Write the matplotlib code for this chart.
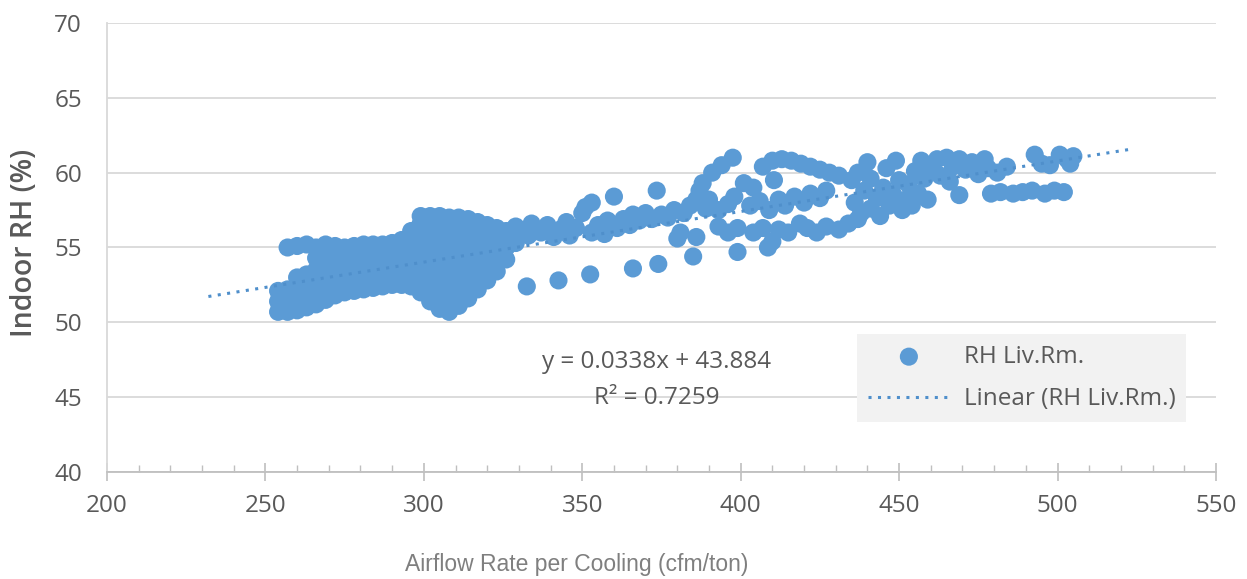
import matplotlib.pyplot as plt

plt.rcParams['font.family'] = ['Open Sans', 'DejaVu Sans']

# dense cloud, 250-330 cfm/ton
cluster_x = [
    254, 254, 254,
    257, 257, 257, 257,
    260, 260, 260, 260, 260,
    263, 263, 263, 263, 263,
    266, 266, 266, 266, 266, 266,
    269, 269, 269, 269, 269, 269,
    272, 272, 272, 272, 272, 272,
    275, 275, 275, 275, 275,
    278, 278, 278, 278, 278,
    281, 281, 281, 281, 281,
    284, 284, 284, 284, 284,
    287, 287, 287, 287, 287,
    290, 290, 290, 290, 290,
    293, 293, 293, 293, 293,
    296, 296, 296, 296, 296, 296,
    299, 299, 299, 299, 299, 299, 299, 299,
    302, 302, 302, 302, 302, 302, 302, 302,
    305, 305, 305, 305, 305, 305, 305, 305, 305,
    308, 308, 308, 308, 308, 308, 308, 308, 308,
    311, 311, 311, 311, 311, 311, 311, 311, 311,
    314, 314, 314, 314, 314, 314, 314, 314,
    317, 317, 317, 317, 317, 317, 317,
    320, 320, 320, 320, 320, 320,
    323, 323, 323, 323, 323,
    326, 326, 326, 326,
    329, 329, 329,
]
cluster_y = [
    50.7, 51.4, 52.1,
    50.7, 51.4, 52.2, 55.0,
    50.8, 51.5, 52.3, 53.0, 55.1,
    51.0, 51.7, 52.5, 53.2, 55.2,
    51.2, 51.9, 52.7, 53.5, 54.3, 55.0,
    51.5, 52.2, 53.0, 53.8, 54.5, 55.2,
    51.8, 52.5, 53.3, 54.1, 54.8, 55.1,
    52.0, 52.7, 53.4, 54.2, 55.0,
    52.1, 52.8, 53.6, 54.4, 55.1,
    52.2, 52.9, 53.7, 54.5, 55.2,
    52.3, 53.0, 53.8, 54.6, 55.2,
    52.4, 53.1, 53.9, 54.7, 55.2,
    52.5, 53.2, 54.0, 54.8, 55.3,
    52.5, 53.2, 54.0, 54.8, 55.5,
    52.4, 53.0, 53.8, 54.6, 55.4, 56.1,
    52.0, 52.6, 53.4, 54.2, 55.0, 55.8, 56.6, 57.1,
    51.4, 52.2, 53.0, 53.8, 54.6, 55.4, 56.2, 57.1,
    50.9, 51.7, 52.5, 53.3, 54.1, 54.9, 55.7, 56.5, 57.1,
    50.7, 51.5, 52.3, 53.1, 53.9, 54.7, 55.5, 56.3, 57.0,
    51.1, 51.8, 52.6, 53.4, 54.2, 55.0, 55.8, 56.5, 57.0,
    51.6, 52.3, 53.1, 53.9, 54.7, 55.5, 56.2, 56.9,
    52.2, 52.9, 53.7, 54.5, 55.3, 56.0, 56.7,
    52.8, 53.5, 54.3, 55.1, 55.9, 56.5,
    53.4, 54.2, 55.0, 55.8, 56.3,
    54.2, 55.0, 55.7, 56.1,
    55.3, 56.0, 56.4,
]

# main band 330-400
band_x = [331, 333, 334, 337, 339, 341, 343, 345, 346, 348, 350, 351, 353, 353,
          355, 357, 358, 360, 361, 363, 365, 366, 368, 370, 372, 373.5, 375, 377,
          379, 380, 381, 382, 384, 386, 386, 387, 388, 389, 390, 391, 393, 393,
          394, 396, 396, 397.5, 398, 399]
band_y = [56.1, 55.8, 56.6, 56.0, 56.5, 55.7, 56.2, 56.7, 55.8, 56.3, 57.3, 57.7, 58.0, 56.0,
          56.5, 55.9, 56.8, 58.4, 56.3, 56.9, 56.5, 57.2, 56.8, 57.3, 56.9, 58.8, 57.2, 57.0,
          57.5, 55.6, 56.0, 57.3, 57.8, 55.7, 58.2, 58.8, 59.3, 57.6, 58.2, 60.0, 57.5, 56.4,
          60.5, 56.0, 57.9, 61.0, 58.4, 56.3]

# loop 400-460
loop_x = [401, 404, 407, 410, 413, 416, 419, 422, 425, 428, 431, 410.5,
          403, 406, 409, 412, 414, 417, 420, 422, 425, 427,
          404, 407, 410, 412, 415, 418.7, 421, 424, 427, 431, 434, 437,
          435, 436, 437, 438, 439, 440, 441, 441, 443, 444, 445, 446, 447, 448,
          449, 450, 451, 452, 453, 454, 455, 456, 457, 458, 459]
loop_y = [59.3, 59.0, 60.4, 60.8, 60.9, 60.8, 60.6, 60.4, 60.2, 60.0, 59.8, 59.5,
          57.8, 58.1, 57.5, 58.2, 57.8, 58.4, 58.0, 58.6, 58.3, 58.8,
          56.0, 56.3, 55.4, 56.2, 56.0, 56.6, 56.3, 56.0, 56.4, 56.2, 56.6, 56.9,
          59.5, 58.0, 60.0, 57.3, 58.8, 60.7, 59.6, 57.6, 58.3, 57.1, 59.0, 60.3, 57.8, 58.6,
          60.8, 59.5, 57.5, 58.2, 59.2, 57.8, 60.1, 58.6, 60.8, 59.6, 58.2]

# right end 460-505
right_x = [460, 462, 463, 465, 466, 467, 469, 469, 471, 473, 475, 477, 478, 479,
           481, 482, 484, 486, 489, 492, 492.8, 495, 496, 497.6, 499, 500.7, 502,
           503, 504, 505]
right_y = [60.4, 60.9, 59.8, 61.0, 59.4, 60.4, 58.5, 60.9, 60.2, 60.7, 59.9, 60.9, 60.3, 58.6,
           60.0, 58.7, 60.4, 58.6, 58.7, 58.8, 61.2, 60.6, 58.6, 60.5, 58.8, 61.2, 58.7,
           60.9, 60.6, 61.1]

# lower diagonal of single points
low_x = [332.5, 342.5, 352.5, 366, 374, 385, 399, 408.6]
low_y = [52.4, 52.8, 53.2, 53.6, 53.9, 54.4, 54.7, 55.0]

airflow = cluster_x + band_x + loop_x + right_x + low_x
rh = cluster_y + band_y + loop_y + right_y + low_y

slope = 0.0338
intercept = 43.884
r2 = 0.7259
trend_x = [232, 524]
trend_y = [slope * x + intercept for x in trend_x]

blue = '#5B9BD5'
grey_text = '#595959'

fig = plt.figure(figsize=(12.47, 5.79), dpi=100)
ax = fig.add_axes([0.0858, 0.1848, 0.8893, 0.7755])

ax.scatter(airflow, rh, s=170, color=blue, edgecolors='none', label='RH Liv.Rm.', zorder=3)
ax.plot(trend_x, trend_y, color='#4F8FCB', linewidth=2.2, linestyle=(0, (1, 2.1)),
        label='Linear (RH Liv.Rm.)', zorder=4)

ax.set_xlim(200, 550)
ax.set_ylim(40, 70)
ax.set_xticks([200, 250, 300, 350, 400, 450, 500, 550])
ax.set_xticks(range(200, 551, 10), minor=True)
ax.set_yticks([40, 45, 50, 55, 60, 65, 70])

ax.yaxis.grid(True, color='#D9D9D9', linewidth=1.3)
ax.set_axisbelow(True)
for side in ['top', 'right']:
    ax.spines[side].set_visible(False)
ax.spines['left'].set_color('#D9D9D9')
ax.spines['left'].set_linewidth(1.3)
ax.spines['bottom'].set_color('#BFBFBF')
ax.spines['bottom'].set_linewidth(1.3)

ax.tick_params(axis='y', length=0, pad=18, labelsize=17.5, labelcolor=grey_text)
ax.tick_params(axis='x', which='major', direction='inout', length=13, width=1.2,
               color='#BFBFBF', pad=9, labelsize=17.5, labelcolor=grey_text)
ax.tick_params(axis='x', which='minor', direction='in', length=5, width=1.0, color='#BFBFBF')

ax.text(373.6, 47.35, f'y = {slope}x + {intercept}', ha='center', va='center',
        fontsize=17.5, color=grey_text)
ax.text(373.6, 44.95, f'R² = {r2}', ha='center', va='center',
        fontsize=17.5, color=grey_text)

leg = ax.legend(loc='center', bbox_to_anchor=(0.8246, 0.209), frameon=True,
                facecolor='#F2F2F2', edgecolor='none', fancybox=False, framealpha=1,
                fontsize=17.5, handlelength=3.4, handletextpad=0.55, labelspacing=0.75,
                borderpad=0.45, scatterpoints=1)
for t in leg.get_texts():
    t.set_color(grey_text)

fig.text(25 / 1247, 1 - 243 / 579, 'Indoor RH (%)', rotation=90, ha='center', va='center',
         fontsize=20.5, fontweight='semibold', color=grey_text)
fig.text(577 / 1247, 1 - 565 / 579, 'Airflow Rate per Cooling (cfm/ton)', ha='center',
         va='center', fontsize=16.5, color='#7F7F7F', family=['Liberation Sans', 'DejaVu Sans'])

plt.savefig('out.png', dpi=100)
